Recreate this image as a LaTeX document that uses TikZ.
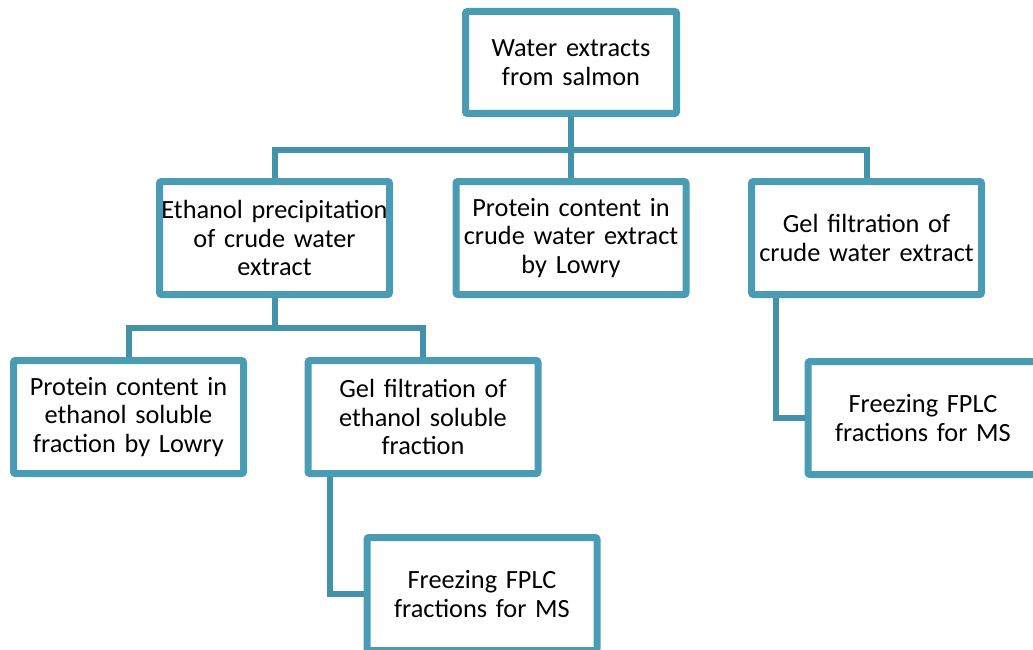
\documentclass[tikz,border=0pt]{standalone}
\usepackage{fontspec}
\setmainfont{Carlito}
\usetikzlibrary{shadows}
\definecolor{boxc}{RGB}{74,156,181}
\definecolor{linec}{RGB}{66,146,170}
\tikzset{
  box/.style={draw=boxc, line width=7pt, fill=white, rounded corners=2pt,
    minimum width=230pt, minimum height=113pt, inner sep=0pt,
    align=center, font=\fontsize{26.3pt}{28.6pt}\selectfont, text width=230pt,
    drop shadow={opacity=0.22, shadow xshift=2pt, shadow yshift=-3pt}},
  conn/.style={draw=linec, line width=6pt}
}
\begin{document}
\begin{tikzpicture}[x=1pt,y=-1pt]
\useasboundingbox (0,0) rectangle (1033,650);
\node[box, minimum width=211pt, text width=211pt, minimum height=102pt] (top) at (571,62.5) {Water extracts\\from salmon};
\node[box] (eth) at (274.5,238) {Ethanol precipitation\\of crude water\\extract};
\node[box] (prot) at (571,238) {Protein content in\\crude water extract\\by Lowry};
\node[box] (gc) at (866.5,238) {Gel filtration of\\crude water extract};
\node[box] (pe) at (128.5,417) {Protein content in\\ethanol soluble\\fraction by Lowry};
\node[box] (ge) at (423,417) {Gel filtration of\\ethanol soluble\\fraction};
\node[box] (fl) at (482,594) {Freezing FPLC\\fractions for MS};
\node[box] (fr) at (923,418) {Freezing FPLC\\fractions for MS};
\coordinate (b1) at (571,150);
\coordinate (b2) at (274.5,328);
\coordinate (k1) at (330,0);
\coordinate (k2) at (776,0);
\draw[conn] (top.south) -- (prot.north);
\draw[conn] (eth.north) |- (b1) -| (gc.north);
\draw[conn] (eth.south) -- (b2);
\draw[conn] (pe.north) |- (b2) -| (ge.north);
\draw[conn] (k1 |- ge.south) |- (fl.west);
\draw[conn] (k2 |- gc.south) |- (fr.west);
\end{tikzpicture}
\end{document}
